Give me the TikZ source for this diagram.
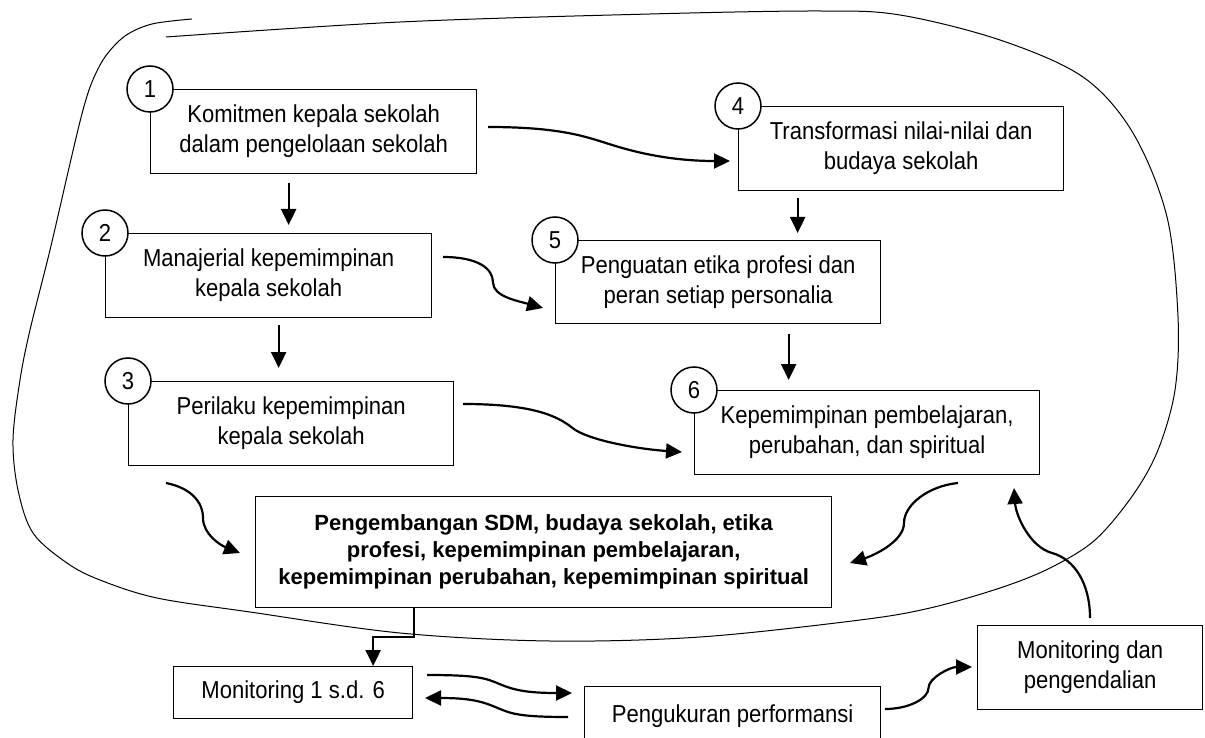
\documentclass[tikz,border=0pt]{standalone}
\usepackage{fontspec}
\setmainfont{Liberation Sans}
\newfontfamily\narrowsans{Liberation Sans}[FakeStretch=0.9]
\usetikzlibrary{arrows.meta,calc}

\tikzset{
  box/.style={draw, line width=1.3pt, align=center, anchor=north west,
    inner sep=0pt, font=\narrowsans\fontsize{24.5}{30}\selectfont},
  num/.style={draw, circle, fill=white, line width=1.5pt, minimum size=46pt,
    inner sep=0pt, font=\narrowsans\fontsize{24.5}{26}\selectfont},
  arr/.style={line width=2.2pt, -{Triangle[length=16pt,width=15pt]}},
  rim/.style={line width=1pt}
}

\begin{document}
\begin{tikzpicture}[x=1pt, y=-1pt]
    \useasboundingbox (0,0) rectangle (1205,738);
    \clip (0,0) rectangle (1205,738);
    % outline round the school part
    \draw[rim] plot[smooth, tension=0.55] coordinates {
        (166,37) (400,22) (650,14) (820,11) (900,15) (1000,40) (1083,77)
        (1133,133) (1167,217) (1178,317) (1175,390) (1158,450) (1133,495)
        (1095,540) (1050,568) (1000,588) (930,608) (860,620) (700,637)
        (550,641) (400,633) (250,612) (157,598) (100,580) (67,563) (33,533)
        (18,490) (13,440) (20,380) (30,330) (50,250) (72,155) (83,110)
        (92,82) (105,57) (125,36) (152,24) (192,19)};
    % steps 1 to 6
    \node[box, minimum width=326pt, minimum height=84pt] (b1) at (150,89)
        {Komitmen kepala sekolah\\dalam pengelolaan sekolah};
    \node[box, minimum width=326pt, minimum height=84pt] (b2) at (105,233)
        {Manajerial kepemimpinan\\kepala sekolah};
    \node[box, minimum width=325pt, minimum height=84pt] (b3) at (128,381)
        {Perilaku kepemimpinan\\kepala sekolah};
    \node[box, minimum width=325pt, minimum height=84pt] (b4) at (738,106)
        {Transformasi nilai-nilai dan\\budaya sekolah};
    \node[box, minimum width=325pt, minimum height=83pt] (b5) at (555,240)
        {Penguatan etika profesi dan\\peran setiap personalia};
    \node[box, minimum width=345pt, minimum height=84pt] (b6) at (694,390)
        {Kepemimpinan pembelajaran,\\perubahan, dan spiritual};
    \foreach \i in {1,...,6}
        \node[num] (n\i) at (b\i.north west) {\i};
    % result and monitoring
    \node[box, minimum width=576pt, minimum height=111pt,
        font=\bfseries\fontsize{22}{27}\selectfont] (dev) at (255,496)
        {Pengembangan SDM, budaya sekolah, etika\\profesi, kepemimpinan
        pembelajaran,\\kepemimpinan perubahan, kepemimpinan spiritual};
    \node[box, minimum width=239pt, minimum height=52pt] (mon) at (173,666)
        {Monitoring 1 s.d. 6};
    \node[box, minimum width=296pt, minimum height=60pt] (ukur) at (584,686)
        {Pengukuran performansi};
    \node[box, minimum width=225pt, minimum height=84pt] (ctrl) at (977,625)
        {Monitoring dan\\pengendalian};
    % straight arrows
    \draw[arr] ([shift={(-25,9)}]b1.south) -- ([shift={(20,-8)}]b2.north);
    \draw[arr] ([shift={(10,7)}]b2.south) -- ([shift={(-12.5,-13)}]b3.north);
    \draw[arr] ([shift={(-103.5,7)}]b4.south) -- ([shift={(79.5,-7)}]b5.north);
    \draw[arr] ([shift={(70.5,10)}]b5.south) -- ([shift={(-78.5,-10)}]b6.north);
    \draw[arr] ([xshift=-130pt]dev.south) -- ++(0,29) -| ([xshift=80pt]mon.north);
    % free ends of the curved arrows
    \coordinate (s14) at (488,127);  \coordinate (e14) at (730,161);
    \coordinate (s25) at (443,257);  \coordinate (e25) at (543,308);
    \coordinate (s36) at (463,404);  \coordinate (e36) at (682,452);
    \coordinate (s3d) at (166,483);  \coordinate (e3d) at (240,553);
    \coordinate (s6d) at (958,483);  \coordinate (e6d) at (850,563);
    \coordinate (sc6) at (1090,618); \coordinate (ec6) at (1014,488);
    \coordinate (suc) at (885,709);  \coordinate (euc) at (972,667);
    \coordinate (smu) at (427,675);  \coordinate (emu) at (572,693);
    \coordinate (sum) at (568,717);  \coordinate (eum) at (425,698);
    % curved arrows
    \draw[arr] (s14) .. controls +(70,0) and +(-25,-8) .. ($(s14)!.5!(e14)$)
        .. controls +(25,8) and +(-60,0) .. (e14);
    \draw[arr] (s25) .. controls +(35,0) and +(0,-14) .. ($(s25)!.5!(e25)$)
        .. controls +(0,14) and +(-25,-7) .. (e25);
    \draw[arr] (s36) .. controls +(70,0) and +(-15,-12) .. ($(s36)!.5!(e36)$)
        .. controls +(15,12) and +(-45,-3) .. (e36);
    \draw[arr] (s3d) .. controls +(25,5) and +(0,-16) .. ($(s3d)!.5!(e3d)$)
        .. controls +(0,16) and +(-20,-8) .. (e3d);
    \draw[arr] (s6d) .. controls +(-30,3) and +(0,-18) .. ($(s6d)!.5!(e6d)$)
        .. controls +(0,18) and +(25,-8) .. (e6d);
    \draw[arr] (sc6) .. controls +(0,-35) and +(22,6) .. ($(sc6)!.5!(ec6)$)
        .. controls +(-22,-6) and +(2,28) .. (ec6);
    \draw[arr] (suc) .. controls +(25,0) and +(0,10) .. ($(suc)!.5!(euc)$)
        .. controls +(0,-10) and +(-22,0) .. (euc);
    \draw[arr] (smu) .. controls +(50,0) and +(-14,-6) .. ($(smu)!.5!(emu)$)
        .. controls +(14,6) and +(-45,0) .. (emu);
    \draw[arr] (sum) .. controls +(-50,0) and +(14,6) .. ($(sum)!.5!(eum)$)
        .. controls +(-14,-6) and +(45,0) .. (eum);
\end{tikzpicture}
\end{document}
